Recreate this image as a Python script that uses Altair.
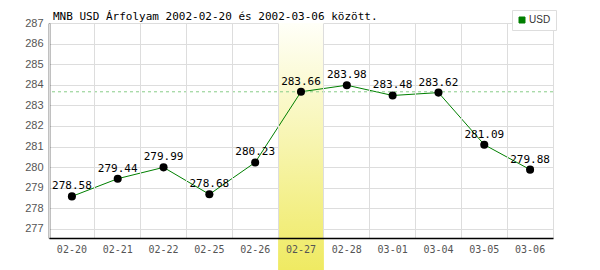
import altair as alt
import pandas as pd

dates = ["02-20", "02-21", "02-22", "02-25", "02-26", "02-27", "02-28", "03-01", "03-04", "03-05", "03-06"]
rates = [278.58, 279.44, 279.99, 278.68, 280.23, 283.66, 283.98, 283.48, 283.62, 281.09, 279.88]
highlight_date = "02-27"
ref_value = 283.66
y_ticks = [277, 278, 279, 280, 281, 282, 283, 284, 285, 286, 287]

df = pd.DataFrame({"date": dates, "rate": rates, "series": ["USD"] * len(dates)})
df["label"] = df["rate"].map(lambda v: f"{v:.2f}")
hl = pd.DataFrame({"date": [highlight_date]})
ref = pd.DataFrame({"rate": [ref_value]})

MONO = "DejaVu Sans Mono"

xscale = alt.Scale(domain=dates, paddingInner=0, paddingOuter=0)
yscale = alt.Scale(domain=[276.56, 287], nice=False, zero=False)

x_axis = alt.Axis(title=None, bandPosition=0, labelAngle=0, labelFont=MONO, labelFontSize=10,
                  labelColor="#555555", domainColor="#000000", domainWidth=1.5, ticks=False,
                  labelPadding=6, gridColor="#dddddd", grid=True, labelBound=False)
y_axis = alt.Axis(title=None, values=y_ticks, labelFont="Liberation Sans", labelFontSize=11,
                  labelColor="#555555", domainColor="#000000", domainWidth=1.5, ticks=False,
                  labelPadding=6, gridColor="#dddddd", grid=True, labelOverlap=False)

Y = alt.Y("rate:Q", scale=yscale, axis=y_axis)

highlight = alt.Chart(hl).mark_rect(
    clip=False,
    color=alt.Gradient(gradient="linear", x1=0, y1=0, x2=0, y2=1,
                       stops=[alt.GradientStop(color="#fffff8", offset=0),
                              alt.GradientStop(color="#efea62", offset=1)])
).encode(
    x=alt.X("date:O", scale=xscale, axis=x_axis, sort=dates),
    y=alt.value(0),
    y2=alt.value(247),
)

base = alt.Chart(df).encode(
    x=alt.X("date:O", scale=xscale, axis=x_axis, sort=dates),
)

line = base.mark_line(strokeWidth=1).encode(
    y=Y,
    color=alt.Color("series:N", scale=alt.Scale(domain=["USD"], range=["#007f00"]),
                    legend=alt.Legend(title=None, orient="none", legendX=463, legendY=-13,
                                      symbolType="square", symbolSize=36,
                                      symbolFillColor="#007f00", symbolStrokeColor="#005000",
                                      symbolStrokeWidth=1, labelFont="Liberation Sans",
                                      labelFontSize=10, labelColor="#333333",
                                      fillColor="white", strokeColor="#dddddd",
                                      padding=5, labelOffset=2)),
)

refline = alt.Chart(ref).mark_rule(color="#88cc88", strokeDash=[3, 3], strokeWidth=1).encode(
    y=Y
)

points = base.mark_circle(size=65, color="#000000", opacity=1).encode(y=Y)

labels = base.mark_text(dy=-5, font=MONO, fontSize=11, color="#000000", baseline="bottom").encode(
    y=Y,
    text="label:N",
)

chart = alt.layer(highlight, line, refline, points, labels).properties(
    width=504,
    height=215,
    title=alt.TitleParams("MNB USD Árfolyam 2002-02-20 és 2002-03-06 között.",
                          anchor="start", frame="group", dx=4, dy=17, offset=5,
                          font=MONO, fontSize=11, fontWeight="normal", color="#000000"),
    autosize=alt.AutoSizeParams(type="none"),
    padding={"left": 49, "top": 23, "right": 47, "bottom": 32},
).configure_view(stroke="#dddddd", strokeWidth=1).configure(background="white")

chart.save("out.html", embed_options={"renderer": "svg", "actions": False})
